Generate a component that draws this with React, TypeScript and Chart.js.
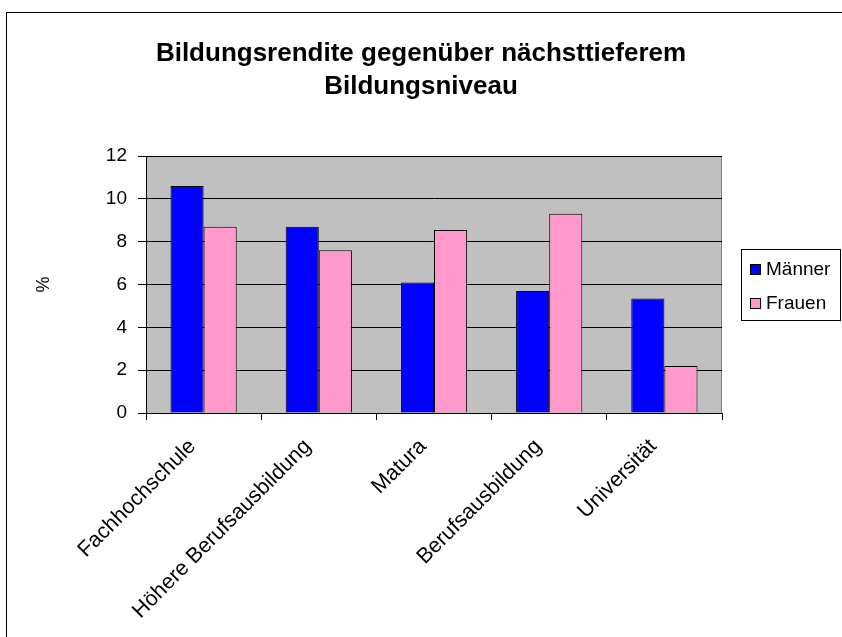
import React, { useEffect, useRef } from "react";
import { Chart, registerables } from "chart.js";

Chart.register(...registerables);

const titleLines = ["Bildungsrendite gegenüber nächsttieferem", "Bildungsniveau"];
const categories = ["Fachhochschule", "Höhere Berufsausbildung", "Matura", "Berufsausbildung", "Universität"];
const maenner = [10.6, 8.7, 6.1, 5.7, 5.35];
const frauen = [8.7, 7.6, 8.55, 9.3, 2.2];
const seriesNames = ["Männer", "Frauen"];
const seriesColors = ["#0000FF", "#FF99CC"];
const yTitle = "%";
const yMin = 0;
const yMax = 12;
const yStep = 2;

const FONT = "'Liberation Sans', Arial, sans-serif";

const backgroundPlugin = {
  id: "bgPlot",
  beforeDraw(chart: any) {
    const { ctx, chartArea, width, height } = chart;
    ctx.save();
    ctx.fillStyle = "#FFFFFF";
    ctx.fillRect(0, 0, width, height);
    ctx.fillStyle = "#C0C0C0";
    ctx.fillRect(chartArea.left, chartArea.top, chartArea.right - chartArea.left, chartArea.bottom - chartArea.top);
    ctx.strokeStyle = "#808080";
    ctx.lineWidth = 1;
    ctx.strokeRect(chartArea.left + 0.5, chartArea.top + 0.5, chartArea.right - chartArea.left - 1, chartArea.bottom - chartArea.top);
    ctx.strokeStyle = "#000000";
    ctx.strokeRect(6.5, 12.5, width + 20, height + 20);
    ctx.restore();
  },
};

const legendPlugin = {
  id: "customLegend",
  afterDraw(chart: any) {
    const { ctx } = chart;
    ctx.save();
    ctx.strokeStyle = "#000000";
    ctx.lineWidth = 1;
    ctx.fillStyle = "#FFFFFF";
    ctx.fillRect(741.5, 249.5, 99, 71);
    ctx.strokeRect(741.5, 249.5, 99, 71);
    ctx.font = `19px ${FONT}`;
    ctx.textBaseline = "middle";
    ctx.textAlign = "left";
    chart.data.datasets.forEach((ds: any, i: number) => {
      const y = 270 + i * 34;
      ctx.fillStyle = ds.backgroundColor;
      ctx.fillRect(750, y - 5, 10, 10);
      ctx.strokeRect(750.5, y - 5.5, 10, 10);
      ctx.fillStyle = "#000000";
      ctx.fillText(ds.label, 766, y);
    });
    ctx.restore();
  },
};

export default function App() {
  const ref = useRef<HTMLCanvasElement>(null);
  useEffect(() => {
    if (!ref.current) return;
    const chart = new Chart(ref.current, {
      type: "bar",
      data: {
        labels: categories,
        datasets: [
          {
            label: seriesNames[0],
            data: maenner,
            backgroundColor: seriesColors[0],
            borderColor: "#000000",
            borderWidth: 1,
            categoryPercentage: 0.575,
            barPercentage: 1,
          },
          {
            label: seriesNames[1],
            data: frauen,
            backgroundColor: seriesColors[1],
            borderColor: "#000000",
            borderWidth: 1,
            categoryPercentage: 0.575,
            barPercentage: 1,
          },
        ],
      },
      options: {
        responsive: false,
        animation: false,
        layout: { padding: { left: 0, right: 0, top: 0, bottom: 0 } },
        plugins: {
          legend: { display: false },
          tooltip: { enabled: false },
          title: {
            display: true,
            text: titleLines,
            color: "#000000",
            font: { family: FONT, size: 26, weight: "bold", lineHeight: 1.27 },
            padding: { top: 37.5, bottom: 52.5 },
          },
        },
        scales: {
          x: {
            afterFit(scale: any) {
              scale.height = 224;
            },
            grid: {
              display: true,
              drawOnChartArea: false,
              drawTicks: true,
              tickLength: 7,
              color: "#000000",
              offset: true,
            },
            border: { color: "#000000", width: 1 },
            ticks: {
              autoSkip: false,
              maxRotation: 45,
              minRotation: 45,
              padding: 14,
              labelOffset: -11,
              color: "#000000",
              font: { family: FONT, size: 21.5 },
            },
          },
          y: {
            min: yMin,
            max: yMax,
            afterFit(scale: any) {
              scale.width = 146;
            },
            ticks: {
              stepSize: yStep,
              padding: 11,
              color: "#000000",
              font: { family: FONT, size: 19 },
            },
            grid: { color: "#000000", tickLength: 8, lineWidth: 1 },
            border: { color: "#000000", width: 1 },
            title: {
              display: true,
              text: yTitle,
              color: "#000000",
              font: { family: FONT, size: 18 },
              padding: { top: 33, bottom: 0 },
            },
          },
          rightSpace: {
            type: "linear",
            position: "right",
            display: true,
            afterFit(scale: any) {
              scale.width = 120;
            },
            grid: { display: false, drawTicks: false },
            ticks: { display: false },
            border: { display: false },
          },
        },
      },
      plugins: [backgroundPlugin, legendPlugin],
    });
    return () => chart.destroy();
  }, []);
  return (
    <div style={{ position: "absolute", left: 0, top: 0, width: 842, height: 637 }}>
      <canvas ref={ref} width={842} height={637} />
    </div>
  );
}
